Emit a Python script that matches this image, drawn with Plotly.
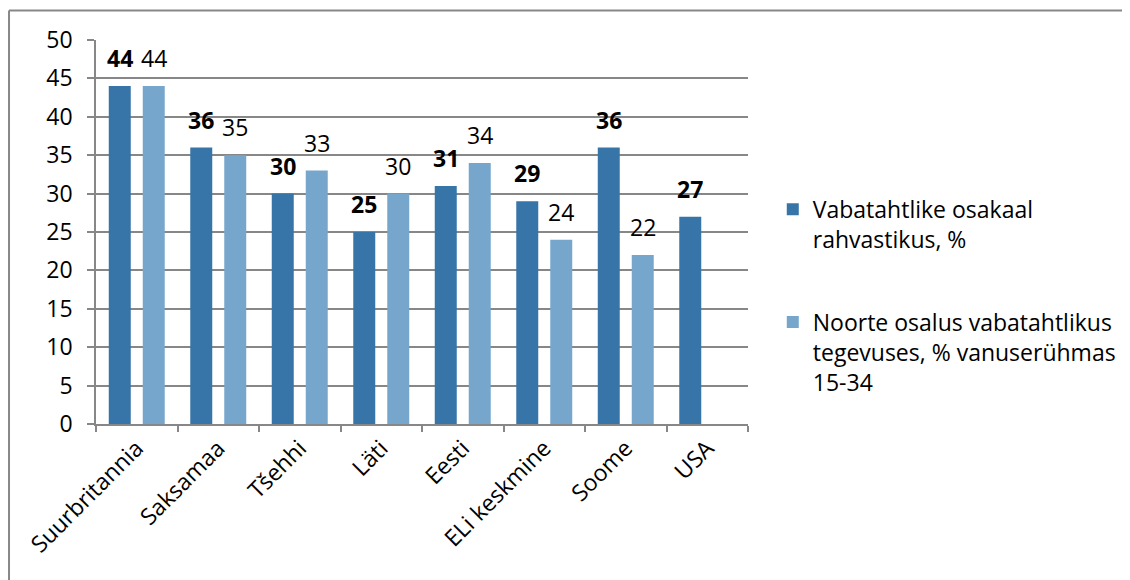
import plotly.graph_objects as go

categories = ["Suurbritannia", "Saksamaa", "Tšehhi", "Läti", "Eesti", "ELi keskmine", "Soome", "USA"]
series1_name = "Vabatahtlike osakaal<br>rahvastikus, %"
series1_values = [44, 36, 30, 25, 31, 29, 36, 27]
series2_name = "Noorte osalus vabatahtlikus<br>tegevuses, % vanuserühmas<br>15-34"
series2_values = [44, 35, 33, 30, 34, 24, 22, None]
y_ticks = [0, 5, 10, 15, 20, 25, 30, 35, 40, 45, 50]

DARK = "#3775A8"
LIGHT = "#76A6CC"
GRID = "#878787"
FONT = "'Open Sans', sans-serif"
FS = 23

fig = go.Figure()
fig.add_trace(go.Bar(x=categories, y=series1_values, name=series1_name,
                     marker=dict(color=DARK, line=dict(width=0)), legendgroup="a"))
fig.add_trace(go.Bar(x=categories, y=series2_values, name=series2_name,
                     marker=dict(color=LIGHT, line=dict(width=0)), legendgroup="b"))

annotations = []
for c, v in zip(categories, series1_values):
    if v is not None:
        annotations.append(dict(x=c, y=v, xref="x", yref="y", text=f"<b>{v}</b>",
                                showarrow=False, xshift=-17, yshift=28, yanchor="middle",
                                font=dict(family=FONT, size=FS, color="#000")))
for c, v in zip(categories, series2_values):
    if v is not None:
        annotations.append(dict(x=c, y=v, xref="x", yref="y", text=f"{v}",
                                showarrow=False, xshift=17, yshift=28, yanchor="middle",
                                font=dict(family=FONT, size=FS, color="#000")))

# page body has an 8px default margin; compensate so the plot lands where the reference has it
fig.update_layout(
    width=1130, height=580,
    margin=dict(l=88, r=390, t=32, b=164, autoexpand=False),
    paper_bgcolor="white", plot_bgcolor="white",
    barmode="group", bargap=0.166, bargroupgap=0.353,
    font=dict(family=FONT, size=FS, color="#000"),
    annotations=annotations,
    legend=dict(x=1.038, xanchor="left", y=0.615, yanchor="top",
                font=dict(family=FONT, size=FS, color="#000"),
                traceorder="grouped", tracegroupgap=50, valign="top",
                bgcolor="rgba(0,0,0,0)"),
    shapes=[
        dict(type="line", xref="paper", yref="paper", x0=-0.1334, x1=2, y0=1.0768, y1=1.0768,
             line=dict(color=GRID, width=2)),
        dict(type="line", xref="paper", yref="paper", x0=-0.1334, x1=-0.1334, y0=-1, y1=1.0768,
             line=dict(color=GRID, width=2)),
    ],
)
fig.update_yaxes(range=[0, 50], tickvals=y_ticks, showgrid=True, gridcolor=GRID, gridwidth=1.5,
                 showline=True, linecolor=GRID, linewidth=1.5, ticks="outside", ticklen=7,
                 tickcolor=GRID, tickwidth=1.5, zeroline=False, ticklabelstandoff=10,
                 automargin=False, tickfont=dict(family=FONT, size=FS, color="#000"))
fig.update_xaxes(showline=True, linecolor=GRID, linewidth=1.5, ticks="outside", ticklen=6,
                 tickson="boundaries", tickcolor=GRID, tickwidth=1.5, tickangle=-45,
                 automargin=False, tickfont=dict(family=FONT, size=FS, color="#000"), showgrid=False)

fig.write_html("out.html")
